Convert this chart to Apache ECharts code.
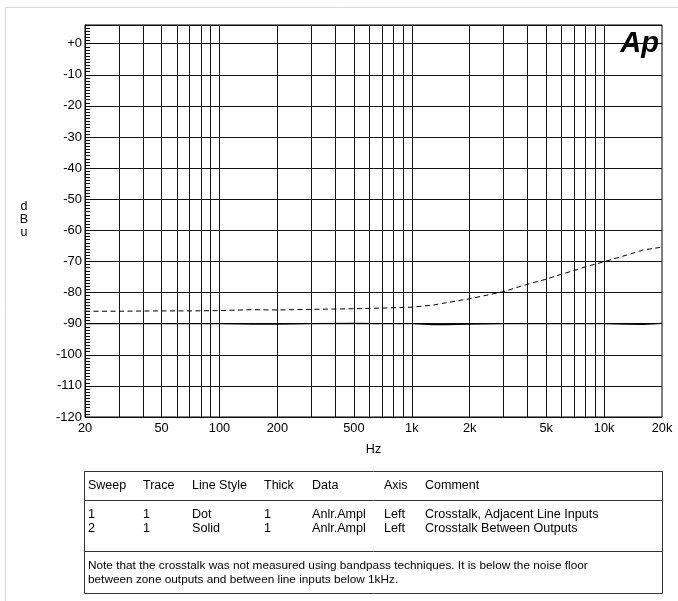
<!DOCTYPE html>
<html>
<head>
<meta charset="utf-8">
<script src="https://cdn.jsdelivr.net/npm/echarts@6/dist/echarts.min.js"></script>
<style>
html,body{margin:0;padding:0;background:#fff;}
#c{width:678px;height:601px;}
</style>
</head>
<body>
<div id="c"></div>
<script>
// ---- data ----
const freqHz = [20, 30, 50, 70, 100, 150, 200, 300, 500, 700, 1000, 1300, 1500, 2000, 3000, 4000, 5000, 6000, 7000, 8000, 10000, 13000, 16000, 20000];
const sweep1Dot = [-86.0, -86.0, -85.9, -85.9, -85.8, -85.5, -85.6, -85.4, -85.2, -85.0, -84.7, -84.0, -83.3, -82.0, -79.7, -77.3, -75.7, -74.1, -72.9, -71.7, -70.1, -68.0, -66.3, -65.4];
const sweep2Solid = [-90.0, -90.0, -90.0, -90.0, -90.0, -90.1, -90.1, -90.0, -89.9, -90.0, -90.0, -90.3, -90.3, -90.1, -90.0, -90.0, -90.0, -90.0, -90.0, -90.0, -90.0, -90.1, -90.2, -89.9];
const xTickLabels = [20, 50, 100, 200, 500, 1000, 2000, 5000, 10000, 20000];
const xGridFreqs = [30, 40, 50, 60, 70, 80, 90, 100, 200, 300, 400, 500, 600, 700, 800, 900, 1000, 2000, 3000, 4000, 5000, 6000, 7000, 8000, 9000, 10000];
const yMin = -120, yMax = 6;
const tableHeader = ['Sweep', 'Trace', 'Line Style', 'Thick', 'Data', 'Axis', 'Comment'];
const tableRows = [
  ['1', '1', 'Dot', '1', 'Anlr.Ampl', 'Left', 'Crosstalk, Adjacent Line Inputs'],
  ['2', '1', 'Solid', '1', 'Anlr.Ampl', 'Left', 'Crosstalk Between Outputs']
];
const noteLines = [
  'Note that the crosstalk was not measured using bandpass techniques. It is below the noise floor',
  'between zone outputs and between line inputs below 1kHz.'
];

// ---- layout ----
const FONT = '"Liberation Sans", Arial, sans-serif';
const colX = [88, 143, 192, 264, 312, 384, 425];
const tblL = 84.5, tblR = 662.5, tblT = 471.5, tblH1 = 500.5, tblH2 = 551.5, tblB = 593.5;

function fmtHz(v) {
  return v >= 1000 ? (v / 1000) + 'k' : String(v);
}

const graphics = [];
// outer light frame
graphics.push({type: 'line', shape: {x1: 5.5, y1: 7.5, x2: 678, y2: 7.5}, style: {stroke: '#d8d8d8', lineWidth: 1}});
graphics.push({type: 'line', shape: {x1: 5.5, y1: 7.5, x2: 5.5, y2: 601}, style: {stroke: '#d8d8d8', lineWidth: 1}});
// table
graphics.push({type: 'rect', shape: {x: tblL, y: tblT, width: tblR - tblL, height: tblB - tblT}, style: {fill: 'none', stroke: '#333', lineWidth: 1}});
graphics.push({type: 'line', shape: {x1: tblL, y1: tblH1, x2: tblR, y2: tblH1}, style: {stroke: '#333', lineWidth: 1}});
graphics.push({type: 'line', shape: {x1: tblL, y1: tblH2, x2: tblR, y2: tblH2}, style: {stroke: '#333', lineWidth: 1}});
tableHeader.forEach((t, i) => {
  graphics.push({type: 'text', style: {text: t, x: colX[i], y: 486, fill: '#000', fontSize: 12.5, fontFamily: FONT, verticalAlign: 'middle'}});
});
tableRows.forEach((row, r) => {
  row.forEach((t, i) => {
    graphics.push({type: 'text', style: {text: t, x: colX[i], y: 515 + r * 14, fill: '#000', fontSize: 12.6, fontFamily: FONT, verticalAlign: 'middle'}});
  });
});
noteLines.forEach((t, i) => {
  graphics.push({type: 'text', style: {text: t, x: 88, y: 566 + i * 13.5, fill: '#000', fontSize: 11.8, fontFamily: FONT, verticalAlign: 'middle'}});
});
// dBu vertical label
['d', 'B', 'u'].forEach((t, i) => {
  graphics.push({type: 'text', style: {text: t, x: 24, y: 207 + i * 13, fill: '#000', fontSize: 12.5, fontFamily: FONT, align: 'center', verticalAlign: 'middle'}});
});
// Ap logo
graphics.push({type: 'text', style: {text: 'Ap', x: 659, y: 44, fill: '#000', fontSize: 29, fontWeight: 'bold', fontStyle: 'italic', fontFamily: FONT, align: 'right', verticalAlign: 'middle'}});

const chart = echarts.init(document.getElementById('c'), null, {renderer: 'canvas'});
chart.setOption({
  animation: false,
  backgroundColor: '#fff',
  textStyle: {fontFamily: FONT},
  grid: {left: 85, top: 25, right: 16, bottom: 184, show: true, borderColor: '#000', borderWidth: 1, backgroundColor: 'transparent'},
  xAxis: {
    type: 'log', logBase: 10, min: 20, max: 20000,
    name: 'Hz', nameLocation: 'middle', nameGap: 26,
    nameTextStyle: {color: '#000', fontSize: 12.5, fontFamily: FONT},
    axisLine: {show: true, lineStyle: {color: '#000', width: 1}},
    axisTick: {show: false},
    splitLine: {show: false},
    minorTick: {show: false},
    axisLabel: {customValues: xTickLabels, formatter: v => fmtHz(Math.round(v)), color: '#000', fontSize: 12.8, fontFamily: FONT, margin: 5}
  },
  yAxis: [
    {
      type: 'value', min: yMin, max: yMax, interval: 10,
      axisLine: {show: true, lineStyle: {color: '#000', width: 1}},
      axisTick: {show: false},
      splitLine: {show: true, lineStyle: {color: '#111', width: 1}},
      axisLabel: {
        color: '#000', fontSize: 13, fontFamily: FONT, margin: 3,
        formatter: v => (v === 0 ? '+0' : (v > 0 ? '' : String(v)))
      }
    },
    {
      type: 'value', min: yMin, max: yMax, interval: 1, position: 'left',
      axisLine: {show: false},
      axisTick: {show: true, inside: true, length: 5, lineStyle: {color: '#000', width: 1}},
      splitLine: {show: false},
      axisLabel: {show: false}
    }
  ],
  series: [
    {
      name: 'Crosstalk, Adjacent Line Inputs', type: 'line', showSymbol: false, symbol: 'none',
      data: freqHz.map((f, i) => [f, sweep1Dot[i]]),
      lineStyle: {color: '#000', width: 1, type: [5, 3.5]},
      z: 5,
      markLine: {
        silent: true, symbol: ['none', 'none'], label: {show: false},
        lineStyle: {color: '#111', width: 1, type: 'solid'},
        emphasis: {disabled: true},
        data: xGridFreqs.map(f => ({xAxis: f}))
      }
    },
    {
      name: 'Crosstalk Between Outputs', type: 'line', showSymbol: false, symbol: 'none',
      data: freqHz.map((f, i) => [f, sweep2Solid[i]]),
      lineStyle: {color: '#000', width: 1.4, type: 'solid'},
      z: 5
    }
  ],
  graphic: graphics
});
</script>
</body>
</html>
